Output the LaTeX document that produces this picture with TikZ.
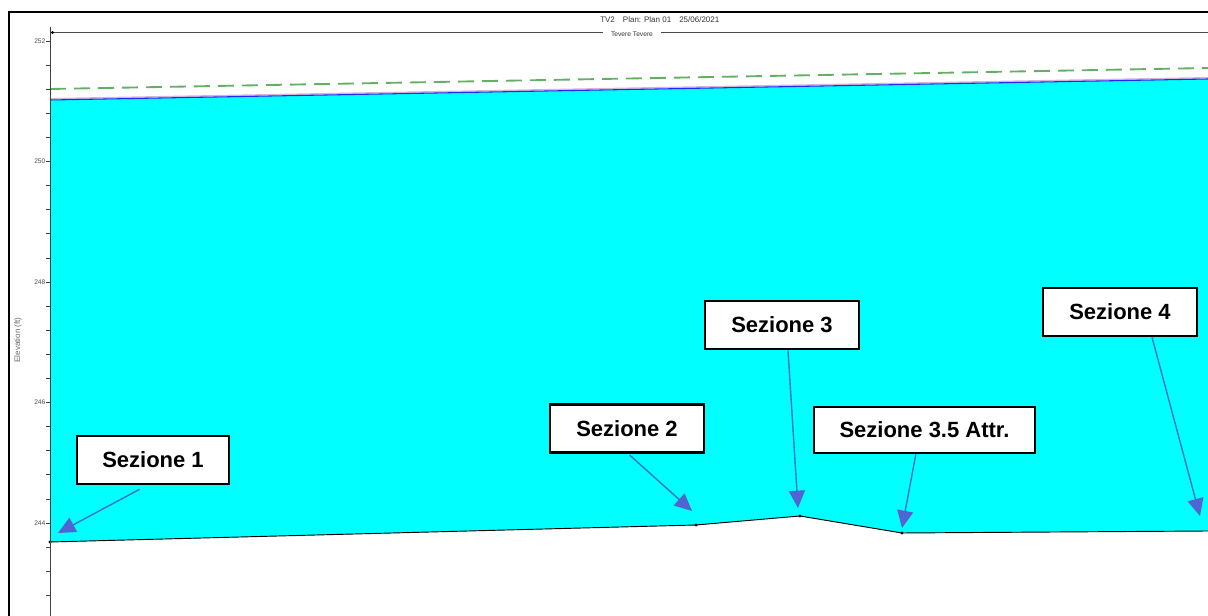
\documentclass[tikz,border=0pt]{standalone}
\usepackage{fontspec}
\setmainfont{Liberation Sans}
\usetikzlibrary{arrows.meta}
\definecolor{watercyan}{RGB}{0,255,255}
\definecolor{arrowblue}{RGB}{55,115,205}
\definecolor{headblue}{RGB}{80,100,210}
\definecolor{egl}{RGB}{100,175,100}
\definecolor{wsblue}{RGB}{30,40,255}
\tikzset{
  labelbox/.style={draw=black, line width=1.9pt, fill=white, inner sep=0pt,
    minimum height=36pt, font=\fontsize{16.5}{18}\selectfont\bfseries},
  callout/.style={draw=arrowblue, line width=1.05pt,
    -{Triangle[length=13pt,width=12pt,fill=headblue,color=headblue]}},
  ticklab/.style={font=\fontsize{5}{6}\selectfont, text=black!70, anchor=east, inner sep=1pt},
  smalltxt/.style={font=\fontsize{6}{7}\selectfont, text=black!80, inner sep=0pt},
  bedpt/.style={fill=black, circle, inner sep=0pt, minimum size=2.6pt}
}
\begin{document}
\begin{tikzpicture}[x=0.75pt,y=-0.75pt]
\useasboundingbox (0,0) rectangle (1208,616);
% outer frame
\draw[line width=1.6pt] (9,616) -- (9,12) -- (1208,12);
% water fill
\fill[watercyan] (50,100) -- (1208,79) -- (1208,531) -- (902,533) -- (800,516) -- (696,525) -- (50,542) -- cycle;
% water surface
\draw[violet!30, line width=1.2pt] (50,98.8) -- (1208,77.8);
\draw[wsblue, line width=0.8pt] (50,100) -- (1208,79);
% energy grade line
\draw[egl, line width=1.4pt, dash pattern=on 12pt off 6pt] (50,89) -- (1208,68);
% bed
\coordinate (p1) at (50,542);
\coordinate (p2) at (696,525);
\coordinate (p3) at (800,516);
\coordinate (p4) at (902,533);
\coordinate (p5) at (1208,531);
\draw[black, line width=0.7pt] (p1) -- (p2) -- (p3) -- (p4) -- (p5);
\foreach \p in {p1,p2,p3,p4} \node[bedpt] at (\p) {};
% axis
\draw[black!75, line width=0.7pt] (50,27) -- (50,616);
\foreach \k in {0,...,23} \draw[black!75, line width=0.5pt] (46,{41+24.1*\k}) -- (50,{41+24.1*\k});
\node[ticklab] at (47,41) {252};
\node[ticklab] at (47,161.5) {250};
\node[ticklab] at (47,282) {248};
\node[ticklab] at (47,402.5) {246};
\node[ticklab] at (47,523) {244};
\node[smalltxt, text=black!60, rotate=90] at (18,340) {Elevation (ft)};
% title
\node[smalltxt, anchor=west] (title) at (600,20) {TV2\quad Plan: Plan 01\quad 25/06/2021};
\node[smalltxt, font=\fontsize{5}{6}\selectfont] (reach) at (632,34) {Tevere Tevere};
\draw[black!70, line width=0.7pt] (52,32.5) -- (603,32.5);
\draw[black!70, line width=0.7pt] (661,32.5) -- (1208,32.5);
\fill[black] (52.5,32.5) circle (1.3pt);
% label boxes
\node[labelbox, minimum width=114pt] (s1) at (153,460) {Sezione 1};
\node[labelbox, minimum width=115.5pt] (s2) at (627,428.5) {Sezione 2};
\node[labelbox, minimum width=115.5pt] (s3) at (782,325) {Sezione 3};
\node[labelbox, minimum width=165.5pt, minimum height=34.5pt] (s35) at (924.5,430) {Sezione 3.5 Attr.};
\node[labelbox, minimum width=115.5pt] (s4) at (1120,312) {Sezione 4};
% arrow tips
\coordinate (t1) at (58,533);
\coordinate (t2) at (692,511);
\coordinate (t3) at (798,508);
\coordinate (t4) at (902,528);
\coordinate (t5) at (1200,516);
\draw[callout] ([xshift=-10pt,yshift=-3pt]s1.south) -- (t1);
\draw[callout] ([xshift=2pt,yshift=-1pt]s2.south) -- (t2);
\draw[callout] ([xshift=4.5pt]s3.south) -- (t3);
\draw[callout] ([xshift=-6.5pt]s35.south) -- (t4);
\draw[callout] ([xshift=24pt]s4.south) -- (t5);
\end{tikzpicture}
\end{document}
